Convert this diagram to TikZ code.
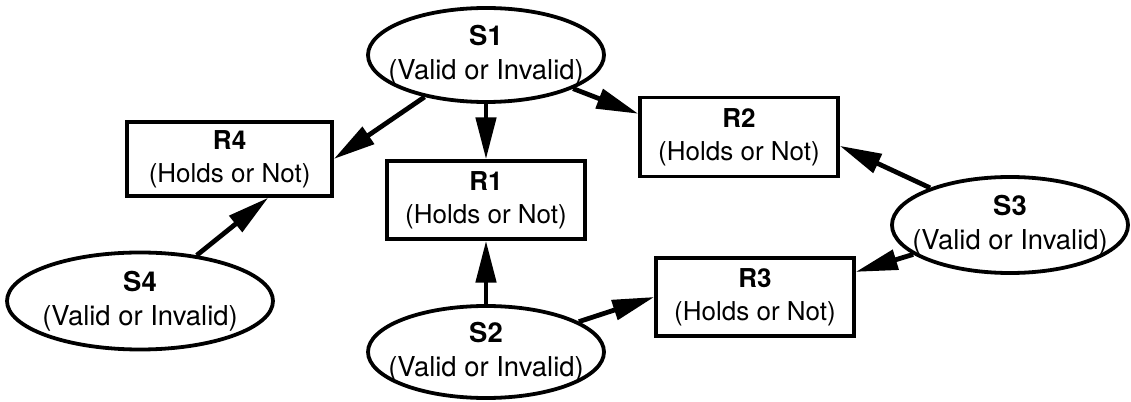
\documentclass[tikz,border=0pt]{standalone}
\usepackage{fontspec}
\setmainfont{TeX Gyre Heros}
\usepackage{tikz}
\usetikzlibrary{shapes.geometric,arrows.meta}

\begin{document}
\begin{tikzpicture}[
    state/.style={ellipse, draw, line width=2.7pt, inner xsep=-0.6cm, inner ysep=0pt,
      minimum width=5.9cm, minimum height=2.35cm, align=center, font=\fontsize{19.5}{24.5}\selectfont},
    relation/.style={rectangle, draw, line width=2.4pt, inner sep=0pt,
      minimum width=4.95cm, minimum height=1.95cm, align=center, font=\fontsize{18.5}{23.5}\selectfont},
    link/.style={line width=3.4pt, -{Triangle[length=1.05cm, width=0.5cm]}}
  ]
  \useasboundingbox (0,0) rectangle (28.275,-10.05);

  \node[state] (s1) at (12.15,-1.375) {\textbf{S1}\\(Valid or Invalid)};
  \node[state, minimum height=2.3cm] (s2) at (12.15,-8.8) {\textbf{S2}\\(Valid or Invalid)};
  \node[state, minimum height=2.4cm] (s3) at (25.25,-5.625) {\textbf{S3}\\(Valid or Invalid)};
  \node[state, minimum width=6.65cm, minimum height=2.425cm] (s4) at (3.5,-7.525) {\textbf{S4}\\(Valid or Invalid)};

  \node[relation] (r1) at (12.15,-5.0) {\textbf{R1}\\(Holds or Not)};
  \node[relation, minimum height=1.975cm] (r2) at (18.475,-3.425) {\textbf{R2}\\(Holds or Not)};
  \node[relation] (r3) at (18.875,-7.425) {\textbf{R3}\\(Holds or Not)};
  \node[relation, minimum width=5.125cm, minimum height=1.85cm] (r4) at (5.74,-3.975) {\textbf{R4}\\(Holds or Not)};

  \draw[link] (s1) -- (r4.east);
  \draw[link] (s1) -- (r1);
  \draw[link] (s1) -- (r2.167);
  \draw[link] (s3) -- (r2.-5);
  \draw[link] (s3) -- (r3.14);
  \draw[link] (s2) -- (r1);
  \draw[link] (s2) -- (r3.west);
  \draw[link] (s4) -- (r4.-45);
\end{tikzpicture}
\end{document}
